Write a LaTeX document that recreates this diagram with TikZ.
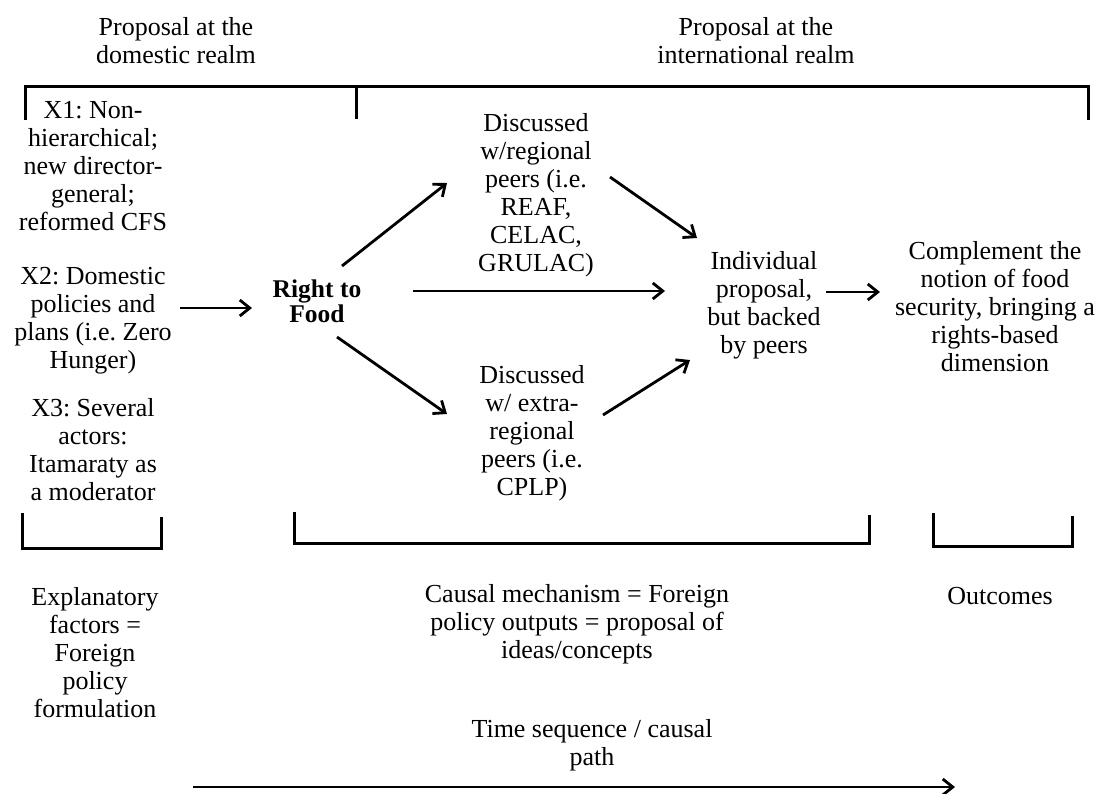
\documentclass[tikz,border=0pt]{standalone}
\usepackage{fontspec}
\setmainfont{Liberation Serif}
\usetikzlibrary{arrows.meta,calc}
\frenchspacing
\begin{document}
\begin{tikzpicture}[x=1pt,y=-1pt,
  txt/.style={align=center,inner sep=0pt,font=\fontsize{26}{28}\selectfont},
  arr/.style={line width=2.8pt,-{Straight Barb[length=10pt,width=16pt]}},
  brk/.style={line width=3pt,line join=miter}]
\useasboundingbox (0,0) rectangle (1100,793);

% column headings
\node[txt] (hdom) at (176,41) {Proposal at the\\domestic realm};
\node[txt] (hint) at (756,41) {Proposal at the\\international realm};

% top bracket spanning both realms
\draw[brk] (25,120) -- (25,86) -- (1088,86) -- (1088,120);
\draw[brk] (356,86) -- (356,119);

% explanatory factors
\node[txt] (x1) at (93,166) {X1: Non-\\hierarchical;\\new director-\\general;\\reformed CFS};
\node[txt] (x2) at (93,321) {X2: Domestic\\policies and\\plans (i.e. Zero\\Hunger)};
\node[txt] (x3) at (93,450) {X3: Several\\actors:\\Itamaraty as\\a moderator};

% causal mechanism
\node[txt,font=\fontsize{25.5}{25}\selectfont\bfseries] (rtf) at (317,301) {Right to\\Food};
\node[txt] (reg) at (536,195) {Discussed\\w/regional\\peers (i.e.\\REAF,\\CELAC,\\GRULAC)};
\node[txt] (ext) at (532,433) {Discussed\\w/ extra-\\regional\\peers (i.e.\\CPLP)};
\node[txt] (ind) at (764,305) {Individual\\proposal,\\but backed\\by peers};

% outcome
\node[txt] (comp) at (995,307) {Complement the\\notion of food\\security, bringing a\\rights-based\\dimension};

% connectors
\draw[arr] ($(x2)+(87,-13)$) -- ($(rtf)+(-65,7)$);
\draw[arr] ($(rtf)+(25,-35)$) -- ($(reg)+(-89,-12)$);
\draw[arr] ($(rtf)+(96,-10)$) -- ($(ind)+(-99,-14)$);
\draw[arr] ($(rtf)+(20,36)$) -- ($(ext)+(-85,-19)$);
\draw[arr] ($(reg)+(74,-18)$) -- ($(ind)+(-67,-67)$);
\draw[arr] ($(ext)+(71,-18)$) -- ($(ind)+(-74,55)$);
\draw[arr] ($(ind)+(62,-13)$) -- ($(comp)+(-115,-15)$);

% bottom brackets
\draw[brk] (22,513) -- (22,548) -- (161,548) -- (161,517);
\draw[brk] (294,512) -- (294,543) -- (869,543) -- (869,515);
\draw[brk] (933,513) -- (933,546) -- (1072,546) -- (1072,516);

% bracket captions
\node[txt] (expl) at (95,653) {Explanatory\\factors =\\Foreign\\policy\\formulation};
\node[txt] (caus) at (577,624) {Causal mechanism = Foreign\\policy outputs = proposal of\\ideas/concepts};
\node[txt] (outc) at (1000,596) {Outcomes};

% time axis
\node[txt] (time) at (592,745) {Time sequence / causal\\path};
\draw[arr] ($(time)+(-399,42)$) -- ($(time)+(363,42)$);
\end{tikzpicture}
\end{document}
